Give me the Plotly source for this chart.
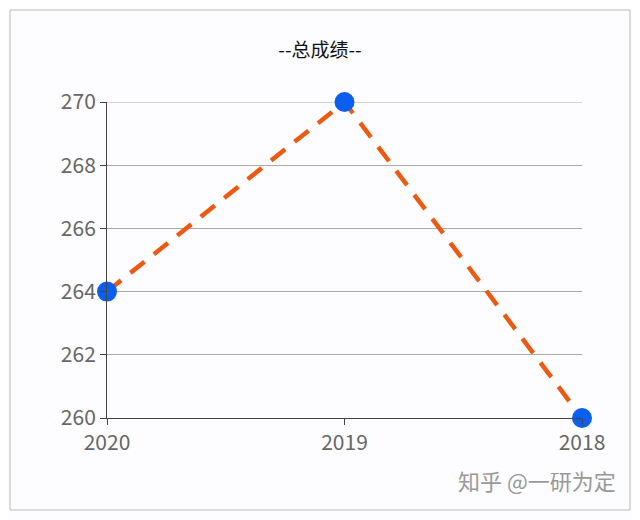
import plotly.graph_objects as go

years = ["2020", "2019", "2018"]
scores = [264, 270, 260]

W, H = 640, 520
OFF = 8  # page body margin
L, R, T, B = 107 - OFF, 58 + OFF, 102 - OFF, 102 + OFF
pw, ph = W - L - R, H - T - B

def px(x): return (x - OFF - L) / pw
def py(y): return (H - B - (y - OFF)) / ph

fig = go.Figure(go.Scatter(
    x=list(range(len(years))), y=scores, mode="lines+markers",
    line=dict(color="#ec5a12", width=4.5, dash="18px,12px"),
    marker=dict(color="#0a5ef0", size=20),
    cliponaxis=False, showlegend=False))

fig.update_layout(
    width=W, height=H, margin=dict(l=L, r=R, t=T, b=B),
    paper_bgcolor="#fdfcff", plot_bgcolor="#fdfcff",
    font=dict(family="Noto Sans CJK SC", color="#666"),
    title=dict(text="--总成绩--", x=px(320), xanchor="center", y=1 - (50 - OFF) / H, yanchor="middle",
               xref="paper", font=dict(size=19, color="#111")),
    xaxis=dict(tickvals=list(range(len(years))), ticktext=years, range=[0, 2],
               showgrid=False, zeroline=False, showline=True, linecolor="#444",
               ticks="outside", ticklen=6, tickcolor="#444", tickfont=dict(size=21)),
    yaxis=dict(range=[260, 270], dtick=2, showgrid=True, gridcolor="#aaa",
               zeroline=False, showline=True, linecolor="#444",
               ticks="outside", ticklen=6, tickcolor="#444", tickfont=dict(size=21)),
    shapes=[dict(type="rect", xref="paper", yref="paper",
                 x0=px(10), x1=px(630), y0=py(510), y1=py(10),
                 line=dict(color="#bbb", width=1)),
            dict(type="line", xref="paper", yref="y", x0=0, x1=1, y0=270, y1=270,
                 line=dict(color="#aaa", width=1), layer="below")],
    annotations=[dict(text="知乎 @一研为定", xref="paper", yref="paper",
                      x=px(618), y=py(480), xanchor="right", yanchor="middle",
                      showarrow=False, font=dict(size=22, color="#999"))],
)
fig.write_html("out.html")
